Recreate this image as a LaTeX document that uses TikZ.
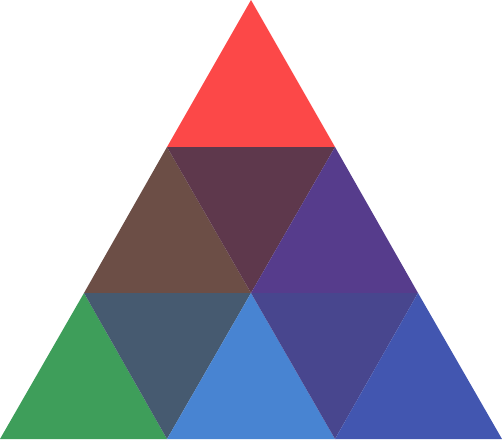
\documentclass[tikz,border=0pt]{standalone}
\usepackage{tikz}
\usepackage{xcolor}
\definecolor{tRed}{RGB}{252,72,72}
\definecolor{tBrown}{RGB}{108,78,70}
\definecolor{tMaroon}{RGB}{94,56,76}
\definecolor{tPurple}{RGB}{86,60,140}
\definecolor{tGreen}{RGB}{62,158,90}
\definecolor{tTeal}{RGB}{70,90,112}
\definecolor{tSky}{RGB}{72,132,210}
\definecolor{tIndigo}{RGB}{72,70,142}
\definecolor{tBlue}{RGB}{66,86,176}

\begin{document}
\begin{tikzpicture}[
    x=0.02cm, y=-0.02cm,
    piece/.style={draw=none}
]
\useasboundingbox (0,0) rectangle (502,443);
% corners of the grid
\coordinate (apex) at (251,0);
\coordinate (r1l) at (167,147);
\coordinate (r1r) at (335,147);
\coordinate (r2l) at (84,293);
\coordinate (r2m) at (251,293);
\coordinate (r2r) at (418,293);
\coordinate (b0) at (0,439);
\coordinate (b1) at (167,439);
\coordinate (b2) at (335,439);
\coordinate (b3) at (502,439);

% top row
\fill[piece, tRed]    (apex) -- (r1l) -- (r1r) -- cycle;
% middle row
\fill[piece, tBrown]  (r1l) -- (r2l) -- (r2m) -- cycle;
\fill[piece, tMaroon] (r1l) -- (r1r) -- (r2m) -- cycle;
\fill[piece, tPurple] (r1r) -- (r2m) -- (r2r) -- cycle;
% bottom row
\fill[piece, tGreen]  (r2l) -- (b0) -- (b1) -- cycle;
\fill[piece, tTeal]   (r2l) -- (r2m) -- (b1) -- cycle;
\fill[piece, tSky]    (r2m) -- (b1) -- (b2) -- cycle;
\fill[piece, tIndigo] (r2m) -- (r2r) -- (b2) -- cycle;
\fill[piece, tBlue]   (r2r) -- (b2) -- (b3) -- cycle;
\end{tikzpicture}
\end{document}
